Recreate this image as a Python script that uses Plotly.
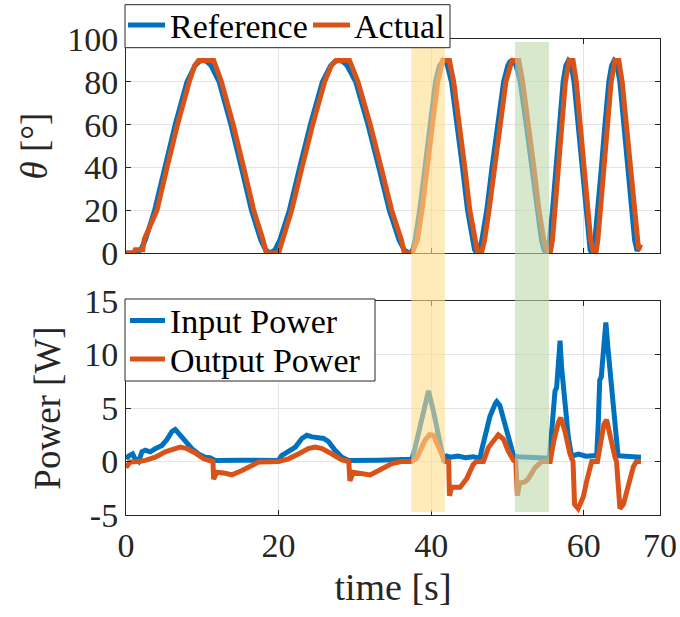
import plotly.graph_objects as go

# ---- joint angle (deg) ----
t_ref = [0, 1.3, 1.92, 2.53, 3.76, 5.08, 6.45, 7.99, 9.04, 9.57, 10.1, 10.63, 11.16, 12.21, 13.75, 15.12,
         16.44, 17.67, 18.28, 18.9,
         19.53, 20.16, 21.42, 22.77, 24.17, 25.74, 26.82, 27.36, 27.9, 28.45, 29.0, 30.11, 31.72, 33.14,
         34.52, 35.81, 36.46, 37.1,
         37.3, 37.6, 37.9, 38.5, 39.15, 39.82, 40.57, 41.08, 41.34, 41.6, 41.86, 42.13, 42.66, 43.43, 44.11,
         44.77, 45.38, 45.69, 46.0,
         46.32, 46.64, 47.29, 47.98, 48.69, 49.5, 50.05, 50.32, 50.6, 50.87, 51.14, 51.68, 52.47, 53.17,
         53.84, 54.47, 54.79, 55.1,
         55.3, 55.51, 55.91, 56.35, 56.8, 57.3, 57.65, 57.83, 58.0, 58.18, 58.37, 58.73, 59.27, 59.74,
         60.2, 60.62, 60.84, 61.05,
         61.26, 61.46, 61.88, 62.32, 62.78, 63.29, 63.65, 63.82, 64.0, 64.19, 64.37, 64.74, 65.29, 65.77,
         66.23, 66.67, 67.0, 67.35]
theta_ref = [0, 0, 1.5, 6, 20, 40, 60, 80, 87.5, 89.4, 90, 89.4, 87.5, 80, 60, 40,
             20, 6, 1.5, 0,
             1.5, 6, 20, 40, 60, 80, 87.5, 89.4, 90, 89.4, 87.5, 80, 60, 40,
             20, 6, 1.5, 0,
             0, 1.5, 6, 20, 40, 60, 80, 87.5, 89.4, 90, 89.4, 87.5, 80, 60, 40,
             20, 6, 1.5, 0,
             1.5, 6, 20, 40, 60, 80, 87.5, 89.4, 90, 89.4, 87.5, 80, 60, 40,
             20, 6, 1.5, 0,
             1.5, 6, 20, 40, 60, 80, 87.5, 89.4, 90, 89.4, 87.5, 80, 60, 40,
             20, 6, 1.5, 0,
             1.5, 6, 20, 40, 60, 80, 87.5, 89.4, 90, 89.4, 87.5, 80, 60, 40,
             20, 6, 1, 3.5]

t_act = [0, 1.0, 1.2, 2.2, 2.4, 4.06, 5.38, 6.75, 8.29, 9.0, 9.5, 11.5, 12.51, 14.05, 15.42, 16.74, 17.97, 18.4,
         20.0, 20.5, 21.72, 23.07, 24.47, 26.04, 26.9, 27.5, 29.3, 30.41, 32.02, 33.44, 34.82, 36.11, 36.5,
         37.5, 38.2, 38.8, 39.45, 40.12, 40.87, 41.5, 42.4, 42.96, 43.73, 44.41, 45.07, 45.68, 46.1,
         46.6, 47.0, 47.59, 48.28, 48.99, 49.8, 50.6, 51.5, 52.0, 52.77, 53.47, 54.14, 54.77, 55.3,
         55.6, 55.9, 56.21, 56.65, 57.1, 57.6, 58.1, 58.6, 59.03, 59.57, 60.04, 60.5, 60.92, 61.3,
         61.6, 61.85, 62.21, 62.65, 63.1, 63.6, 64.1, 64.6, 65.04, 65.59, 66.07, 66.53, 66.97, 67.2, 67.45]
theta_act = [0, 0, 1.5, 1.5, 6.5, 20, 40, 60, 80, 87.5, 90, 90, 80, 60, 40, 20, 6, 0,
             0, 6, 20, 40, 60, 80, 87.5, 90, 90, 80, 60, 40, 20, 6, 0,
             0, 6, 20, 40, 60, 80, 90, 90, 80, 60, 40, 20, 6, 0,
             0, 6, 20, 40, 60, 80, 90, 90, 80, 60, 40, 20, 6, 0,
             0, 6, 20, 40, 60, 80, 90, 90, 80, 60, 40, 20, 6, 0,
             0, 6, 20, 40, 60, 80, 90, 90, 80, 60, 40, 20, 6, 1.5, 4]

# ---- power (W) ----
t_in = [0, 0.35, 0.87, 1.2, 1.65, 2.09, 2.53, 3.2, 3.84, 4.71, 5.37, 6.02, 6.46, 7.11, 7.77, 8.64, 9.5, 10.39,
        11.0, 11.7, 15.0, 20.0, 20.4, 21.3, 22.2, 23.05, 23.7, 24.4, 25.0, 25.9, 26.55, 27.4, 28.3, 29.2,
        33.0, 36.1, 37.25, 37.47, 37.9, 38.56, 39.2, 39.65, 40.3, 40.96, 41.6, 42.05, 42.5, 43.5, 44.5,
        45.5, 46.4, 46.6, 47.3, 47.7, 48.4, 48.6, 49.0, 49.6, 50.3, 50.8, 51.4, 52.5, 53.5, 54.5, 55.5,
        55.8, 56.24, 56.45, 56.7, 56.9, 57.1, 57.55, 57.98, 58.4, 59.3, 60.3, 61.7, 61.9, 62.1, 62.3,
        62.56, 62.9, 63.2, 63.67, 64.1, 64.5, 65.5, 66.5, 67.5]
p_in = [0.25, 0.5, 0.7, 0.25, 0, 0.9, 1.05, 0.9, 1.2, 1.5, 2.05, 2.8, 3.0, 2.45, 1.85, 1.2, 0.7, 0.4,
        0.35, 0.1, 0.12, 0.1, 0.55, 0.9, 1.35, 2.15, 2.45, 2.3, 2.25, 2.15, 1.85, 1.05, 0.4, 0.1,
        0.12, 0.1, 0.2, 0.2, 1.3, 3.2, 5.1, 6.6, 4.7, 2.6, 0.25, 0.5, 0.4, 0.5, 0.35,
        0.45, 0.3, 1.0, 2.9, 4.2, 5.4, 5.6, 5.25, 3.8, 2.0, 0.55, 0.45, 0.4, 0.35, 0.35, 0.3,
        2.8, 6.6, 6.9, 9.7, 11.3, 8.8, 5.4, 2.3, 0.5, 0.7, 0.5, 0.55, 3.5, 7.6, 7.9,
        10.4, 13.0, 10.4, 7.0, 2.9, 0.55, 0.5, 0.45, 0.4]

t_out = [0, 0.56, 1.65, 2.53, 3.84, 5.15, 6.46, 7.11, 7.99, 9.08, 10.17, 11.05, 11.4, 11.48, 11.9, 13.0, 13.88,
         15.2, 16.5, 17.4, 20.0, 21.3, 22.6, 23.9, 24.8, 25.7, 27.0, 28.3, 29.2, 29.35, 29.8, 30.9, 32.0,
         33.5, 34.85, 36.1, 37.47, 38.1, 38.56, 39.2, 39.8, 40.3, 40.74, 41.4, 41.83, 42.3, 42.4, 42.7,
         43.8, 44.67, 45.5, 45.9, 46.85, 47.5, 48.2, 48.8, 49.47, 50.1, 50.8, 51.1, 51.3, 51.6, 52.3,
         52.75, 53.6, 54.2, 54.5, 55.6, 56.1, 56.7, 56.98, 57.55, 58.2, 58.6, 58.8, 59.27, 59.95, 60.4,
         61.05, 61.8, 62.1, 62.65, 63.0, 63.4, 64.1, 64.3, 64.75, 65.2, 65.6, 66.5, 66.9, 67.5]
p_out = [-0.55, -0.05, 0, 0.1, 0.4, 0.9, 1.2, 1.35, 1.2, 0.8, 0.25, 0, 0, -1.65, -1.0, -1.1, -1.25,
         -0.85, -0.3, -0.05, 0, 0.25, 0.7, 1.2, 1.35, 1.2, 0.7, 0.15, 0, -1.8, -1.0, -1.15, -1.25,
         -0.7, -0.2, 0, 0, 0.3, 1.0, 2.0, 2.5, 2.45, 1.7, 0.5, 0, 0, -3.2, -2.4,
         -2.4, -1.6, -0.3, 0, 0, 1.3, 2.0, 2.5, 2.1, 1.0, 0.1, 0, -3.2, -2.0, -1.9,
         -1.6, -0.6, -0.1, 0, 0, 2.0, 3.7, 4.1, 2.8, 0.7, 0, -4.0, -4.4, -3.3, -1.8,
         0, 0, 1.3, 3.5, 3.9, 2.5, 0.4, 0, -4.4, -4.0, -3.0, -0.5, 0, 0]

# highlighted time windows (s)
windows = [(37.4, 41.8), (51.0, 55.45)]
window_colors = ["rgba(255,222,140,0.6)", "rgba(188,217,172,0.6)"]

x_ticks = [0, 20, 40, 60, 70]
theta_ticks = [0, 20, 40, 60, 80, 100]
power_ticks = [-5, 0, 5, 10, 15]
power_tick_text = ["-5", "0", "5", "10", "15"]

BLUE = "#0072BD"
ORANGE = "#D95319"
INK = "#262626"
FONT = "Liberation Serif"
LW = 5

# figure geometry (px)
W, H = 680, 617
ML, MR, MT, MB = 126, 20, 39, 102
PW, PH = W - ML - MR, H - MT - MB


def px(x):
    return (x - ML) / PW


def py(y):
    return (H - MB - y) / PH


fig = go.Figure()
fig.add_trace(go.Scatter(x=t_ref, y=theta_ref, mode="lines", name="Reference",
                         line=dict(color=BLUE, width=LW), xaxis="x", yaxis="y"))
fig.add_trace(go.Scatter(x=t_act, y=theta_act, mode="lines", name="Actual",
                         line=dict(color=ORANGE, width=LW), xaxis="x", yaxis="y"))
fig.add_trace(go.Scatter(x=t_in, y=p_in, mode="lines", name="Input Power",
                         line=dict(color=BLUE, width=LW), xaxis="x2", yaxis="y2"))
fig.add_trace(go.Scatter(x=t_out, y=p_out, mode="lines", name="Output Power",
                         line=dict(color=ORANGE, width=LW), xaxis="x2", yaxis="y2"))

# translucent highlight bands spanning both panels
for (a, b), c in zip(windows, window_colors):
    fig.add_shape(type="rect", xref="x2", yref="paper", x0=a, x1=b, y0=py(512), y1=py(42),
                  fillcolor=c, line=dict(width=0), layer="above")

# boxed legends (MATLAB style)
legend_boxes = [(125, 450, 4.7, 47.7), (125, 375, 299, 381)]
for x0, x1, y0, y1 in legend_boxes:
    fig.add_shape(type="rect", xref="paper", yref="paper", x0=px(x0), x1=px(x1), y0=py(y1), y1=py(y0),
                  fillcolor="white", line=dict(color=INK, width=1), layer="above")

legend_items = [  # (label, colour, sample x0, sample x1, text x, row y)
    ("Reference", BLUE, 128, 165, 168, 25),
    ("Actual", ORANGE, 313, 350, 352, 25),
    ("Input Power", BLUE, 130, 165, 168, 320.5),
    ("Output Power", ORANGE, 130, 165, 168, 359),
]
for label, color, s0, s1, tx, ty in legend_items:
    fig.add_shape(type="line", xref="paper", yref="paper", x0=px(s0), x1=px(s1), y0=py(ty), y1=py(ty),
                  line=dict(color=color, width=LW), layer="above")
    fig.add_annotation(text=label, xref="paper", yref="paper", x=px(tx), y=py(ty + 1),
                       xanchor="left", yanchor="middle", showarrow=False,
                       font=dict(family=FONT, size=34, color="black"))

axis_common = dict(showline=True, mirror="ticks", linecolor=INK, linewidth=1,
                   ticks="inside", ticklen=5, tickcolor=INK, tickwidth=1,
                   showgrid=True, gridcolor="#e4e4e4", gridwidth=1, zeroline=False,
                   automargin=False,
                   tickfont=dict(family=FONT, size=34, color=INK))

fig.update_layout(
    width=W, height=H,
    margin=dict(l=ML, r=MR, t=MT, b=MB, autoexpand=False),
    plot_bgcolor="white", paper_bgcolor="white",
    font=dict(family=FONT, color=INK),
    showlegend=False,
    xaxis=dict(domain=[0, 1], range=[0, 70], tickvals=x_ticks, showticklabels=False,
               anchor="y", matches="x2", **axis_common),
    yaxis=dict(domain=[py(253), 1], range=[0, 100], tickvals=theta_ticks, anchor="x",
               title=dict(text="<i>θ</i> [°]", font=dict(family=FONT, size=37, color=INK), standoff=8),
               **axis_common),
    xaxis2=dict(domain=[0, 1], range=[0, 70], tickvals=x_ticks, anchor="y2",
                title=dict(text="time [s]", font=dict(family=FONT, size=38, color=INK), standoff=10),
                **axis_common),
    yaxis2=dict(domain=[0, py(301)], range=[-5, 15], tickvals=power_ticks, ticktext=power_tick_text,
                anchor="x2",
                title=dict(text="Power [W]", font=dict(family=FONT, size=37, color=INK), standoff=12),
                **axis_common),
)

fig.write_html("out.html")
